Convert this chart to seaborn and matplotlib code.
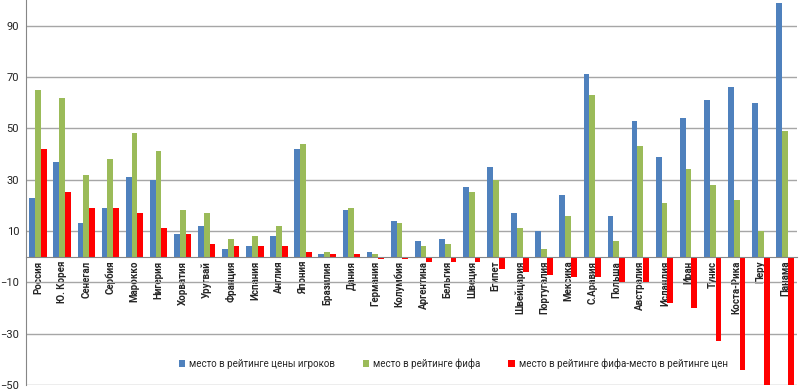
import numpy as np
import pandas as pd
import matplotlib
matplotlib.use("Agg")
import matplotlib.pyplot as plt
import seaborn as sns

# данные
countries = ["Россия", "Ю. Корея", "Сенегал", "Сербия", "Марокко", "Нигерия", "Хорватия",
             "Уругвай", "Франция", "Испания", "Англия", "Япония", "Бразилия", "Дания",
             "Германия", "Колумбия", "Аргентина", "Бельгия", "Швеция", "Египет", "Швейцария",
             "Португалия", "Мексика", "С.Аравия", "Польша", "Австралия", "Исландия", "Иран",
             "Тунис", "Коста-Рика", "Перу", "Панама"]
price_rank = [23, 37, 13, 19, 31, 30, 9, 12, 3, 4, 8, 42, 1, 18, 2, 14, 6, 7, 27, 35, 17,
              10, 24, 71, 16, 53, 39, 54, 61, 66, 60, 99]
fifa_rank = [65, 62, 32, 38, 48, 41, 18, 17, 7, 8, 12, 44, 2, 19, 1, 13, 4, 5, 25, 30, 11,
             3, 16, 63, 6, 43, 21, 34, 28, 22, 10, 49]
diff_rank = [42, 25, 19, 19, 17, 11, 9, 5, 4, 4, 4, 2, 1, 1, -1, -1, -2, -2, -2, -5, -6,
             -7, -8, -8, -10, -10, -18, -20, -33, -44, -50, -50]
series_names = ["место в рейтинге цены игроков", "место в рейтинге фифа",
                "место в рейтинге фифа-место в рейтинге цен"]
y_ticks = [-50, -30, -10, 10, 30, 50, 70, 90]

df = pd.DataFrame({
    "country": countries * 3,
    "value": price_rank + fifa_rank + diff_rank,
    "series": [series_names[0]] * len(countries) + [series_names[1]] * len(countries)
              + [series_names[2]] * len(countries),
})

sns.set_style("white")
plt.rcParams["font.family"] = ["Roboto", "DejaVu Sans"]

fig = plt.figure(figsize=(7.99, 3.91), dpi=100)
ax = fig.add_axes([26 / 799, 6 / 391, 771 / 799, 385 / 391])

sns.barplot(data=df, x="country", y="value", hue="series",
            palette=["#4F81BD", "#9BBB59", "#FF0000"], width=0.72,
            saturation=1, linewidth=0, ax=ax, legend=True)

ax.set_ylim(-50, 100)
ax.set_xlim(-0.5, len(countries) - 0.5)
ax.set_yticks(y_ticks)
ax.yaxis.grid(True, color="#A6A6A6", linewidth=1)
ax.set_axisbelow(True)
ax.set_xlabel("")
ax.set_ylabel("")

for s in ["top", "right"]:
    ax.spines[s].set_visible(False)
ax.spines["left"].set_color("#868686")
ax.spines["bottom"].set_color("#868686")
ax.spines["bottom"].set_position(("data", 0))

ax.tick_params(axis="y", length=3, color="#868686", labelsize=8, labelcolor="#222222", pad=2)
ax.tick_params(axis="x", which="major", length=0, pad=3)
ax.set_xticks(np.arange(-0.5, len(countries), 1), minor=True)
ax.tick_params(axis="x", which="minor", length=3, color="#868686")
ax.set_xticks(range(len(countries)))
ax.set_xticklabels(countries, rotation=90, fontsize=7, fontweight="bold", va="top")

ax.legend(loc="center", bbox_to_anchor=(0.554, 0.055), ncol=3, frameon=False,
          fontsize=7, handlelength=0.7, handleheight=0.7, handletextpad=0.4,
          columnspacing=2.8)

fig.savefig("out.png", dpi=100)
